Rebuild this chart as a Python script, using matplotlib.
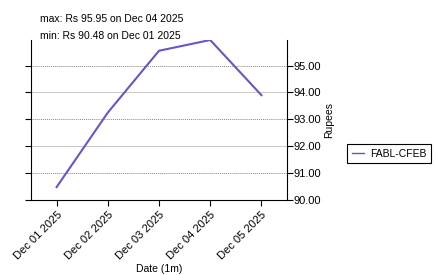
import matplotlib
matplotlib.use("Agg")
import matplotlib.pyplot as plt
import numpy as np

plt.rcParams['font.family'] = ['Liberation Sans', 'DejaVu Sans']
plt.rcParams['font.size'] = 7.5

dates = ["Dec 01 2025", "Dec 02 2025", "Dec 03 2025", "Dec 04 2025", "Dec 05 2025"]
prices = [90.48, 93.25, 95.55, 95.95, 93.90]
series_name = "FABL-CFEB"
yticks = [90, 91, 92, 93, 94, 95]

fig = plt.figure(figsize=(4.36, 2.75), dpi=100)
ax = fig.add_axes([31/436, 75/275, 256/436, 160/275])

x = np.arange(len(dates))
ax.plot(x, prices, color="#6655cc", linewidth=1.5, label=series_name)

ax.set_xlim(-0.5, len(dates) - 0.5)
ax.set_ylim(90, max(prices))
ax.set_xticks(x)
ax.set_xticklabels(dates, rotation=45, ha="right", rotation_mode="anchor", fontsize=8)
ax.set_yticks(yticks)
ax.yaxis.tick_right()
ax.yaxis.set_label_position("right")
ax.set_yticklabels(["%.2f" % v for v in yticks], fontsize=8)
ax.tick_params(axis="y", left=True, right=True, length=4, pad=1)
ax.tick_params(axis="x", length=4, pad=3)
ax.set_ylabel("Rupees", labelpad=2)
ax.set_xlabel("Date (1m)", labelpad=2)

# alternating grid styles
for v in yticks[1:]:
    if v % 2 == 1:
        ax.axhline(v, color="#888888", linestyle=(0, (1, 1)), linewidth=0.7, zorder=0)
    else:
        ax.axhline(v, color="#c8c8c8", linestyle="-", linewidth=0.7, zorder=0)

ax.spines["top"].set_visible(False)

imax = int(np.argmax(prices))
imin = int(np.argmin(prices))
fig.text(40/436, 1 - 19/275, "max: Rs %.2f on %s" % (prices[imax], dates[imax]), fontsize=7.5, va="center")
fig.text(40/436, 1 - 36/275, "min: Rs %.2f on %s" % (prices[imin], dates[imin]), fontsize=7.5, va="center")

leg = ax.legend(loc="center left", bbox_to_anchor=(1.215, 0.29), fancybox=False,
                edgecolor="black", framealpha=1, handlelength=1.2, fontsize=7.5,
                borderpad=0.45, handletextpad=0.5)
leg.get_frame().set_linewidth(0.8)
leg.get_lines()[0].set_linewidth(1.0)

fig.savefig("out.png", dpi=100)
